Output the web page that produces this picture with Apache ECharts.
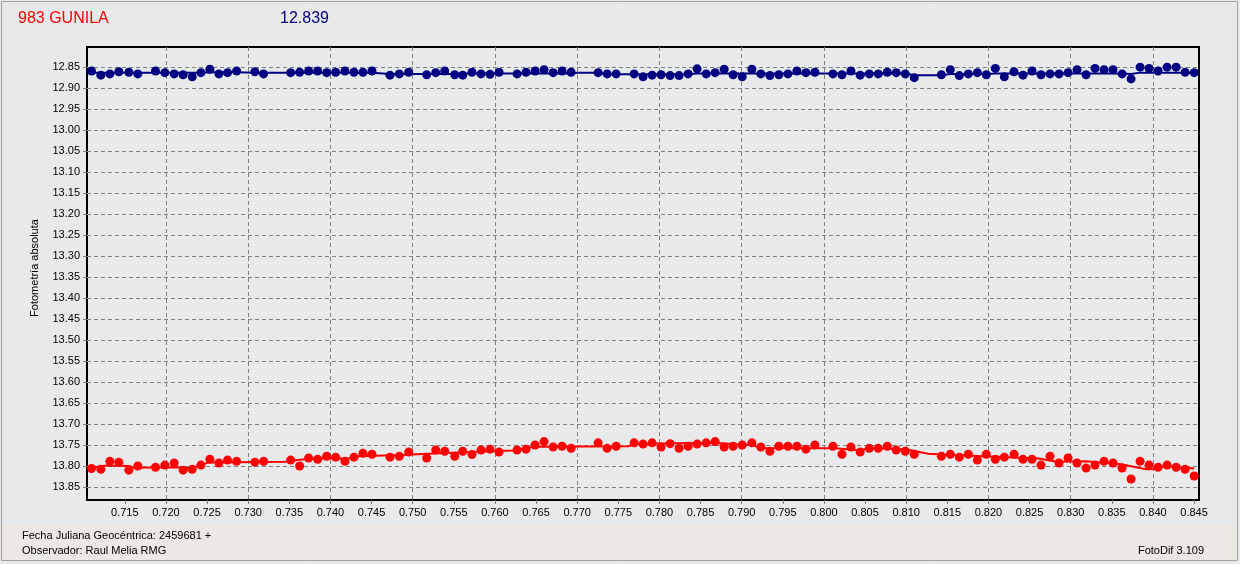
<!DOCTYPE html>
<html><head><meta charset="utf-8">
<script src="https://cdn.jsdelivr.net/npm/echarts@6/dist/echarts.min.js"></script>
<style>html,body{margin:0;padding:0;background:#e8e9eb}#c{width:1240px;height:564px}</style>
</head><body><div id="c"></div>
<script>
// Julian date fraction (shared by both stars)
const jd = [
0.71095,0.71208,0.71318,0.71427,0.71549,0.71658,0.71873,0.71987,0.72100,0.72209,
0.72319,0.72425,0.72534,0.72644,0.72749,0.72859,0.73081,0.73187,0.73516,0.73625,
0.73735,0.73844,0.73954,0.74063,0.74176,0.74286,0.74395,0.74505,0.74724,0.74837,
0.74951,0.75170,0.75280,0.75389,0.75511,0.75608,0.75721,0.75831,0.75940,0.76050,
0.76269,0.76378,0.76488,0.76597,0.76707,0.76816,0.76926,0.77254,0.77364,0.77473,
0.77692,0.77801,0.77911,0.78020,0.78130,0.78239,0.78349,0.78458,0.78568,0.78677,
0.78787,0.78896,0.79006,0.79124,0.79233,0.79343,0.79452,0.79562,0.79671,0.79781,
0.79890,0.80109,0.80219,0.80328,0.80441,0.80551,0.80660,0.80770,0.80879,0.80989,
0.81098,0.81427,0.81536,0.81646,0.81755,0.81865,0.81974,0.82084,0.82193,0.82311,
0.82420,0.82530,0.82639,0.82749,0.82858,0.82968,0.83077,0.83187,0.83296,0.83406,
0.83515,0.83625,0.83734,0.83844,0.83953,0.84063,0.84172,0.84282,0.84391,0.84501];

const blueMag = [
12.860,12.870,12.867,12.862,12.863,12.867,12.860,12.864,12.867,12.869,
12.874,12.864,12.856,12.867,12.864,12.860,12.862,12.867,12.864,12.863,
12.860,12.860,12.864,12.863,12.860,12.863,12.863,12.860,12.870,12.867,
12.863,12.869,12.864,12.860,12.869,12.870,12.863,12.867,12.868,12.863,
12.867,12.863,12.860,12.857,12.864,12.860,12.863,12.864,12.867,12.867,
12.867,12.874,12.870,12.869,12.871,12.871,12.867,12.855,12.867,12.864,
12.856,12.869,12.874,12.856,12.867,12.871,12.869,12.867,12.860,12.864,
12.863,12.867,12.869,12.860,12.870,12.867,12.867,12.863,12.864,12.867,
12.876,12.869,12.857,12.871,12.867,12.864,12.869,12.854,12.874,12.862,
12.870,12.860,12.869,12.867,12.867,12.864,12.857,12.869,12.854,12.857,
12.857,12.867,12.879,12.851,12.854,12.860,12.851,12.851,12.863,12.864];

const redMag = [
13.806,13.808,13.789,13.791,13.810,13.800,13.803,13.798,13.793,13.810,
13.808,13.798,13.784,13.793,13.786,13.789,13.791,13.789,13.786,13.800,
13.781,13.784,13.777,13.779,13.789,13.779,13.770,13.772,13.779,13.777,
13.767,13.781,13.762,13.765,13.777,13.765,13.773,13.762,13.760,13.767,
13.762,13.760,13.750,13.742,13.755,13.753,13.758,13.745,13.758,13.753,
13.745,13.748,13.745,13.755,13.747,13.758,13.753,13.748,13.745,13.742,
13.755,13.753,13.750,13.745,13.755,13.765,13.753,13.753,13.753,13.760,
13.750,13.753,13.772,13.755,13.767,13.758,13.758,13.753,13.762,13.765,
13.772,13.777,13.772,13.779,13.772,13.786,13.772,13.784,13.779,13.772,
13.784,13.784,13.798,13.777,13.793,13.781,13.793,13.805,13.798,13.789,
13.793,13.805,13.831,13.789,13.798,13.803,13.798,13.803,13.808,13.824];

// averaged curves
const blueLineJd  = [0.71095,0.72425,0.72534,0.72859,0.73081,0.74505,0.74724,0.75511,0.75608,0.76926,0.77010,0.77254,0.77364,0.78349,0.78458,0.80989,0.81098,0.81427,0.81536,0.81974,0.82084,0.83625,0.83734,0.83844,0.84501];
const blueLineMag = [12.864,12.864,12.863,12.863,12.864,12.864,12.867,12.867,12.866,12.866,12.864,12.864,12.868,12.868,12.866,12.866,12.870,12.870,12.867,12.867,12.866,12.866,12.867,12.864,12.864];

const redLineJd  = [0.71095,0.71274,0.71556,0.71600,0.72120,0.72208,0.72316,0.72512,0.73446,0.73620,0.73836,0.74229,0.74315,0.74853,0.75185,0.75793,0.76227,0.76488,0.77618,0.77704,0.77765,0.78634,0.79112,0.79242,0.80138,0.80399,0.80658,0.81006,0.81267,0.81571,0.82223,0.82612,0.82831,0.83179,0.83613,0.83917,0.84047,0.84134,0.84390,0.84501];
const redLineMag = [13.804,13.799,13.800,13.804,13.803,13.805,13.805,13.792,13.790,13.785,13.782,13.782,13.777,13.774,13.771,13.766,13.763,13.754,13.753,13.749,13.747,13.745,13.750,13.757,13.758,13.762,13.758,13.761,13.771,13.774,13.779,13.782,13.790,13.789,13.796,13.808,13.807,13.801,13.804,13.806];

const xTicks = [0.715,0.720,0.725,0.730,0.735,0.740,0.745,0.750,0.755,0.760,0.765,0.770,0.775,0.780,0.785,0.790,0.795,0.800,0.805,0.810,0.815,0.820,0.825,0.830,0.835,0.840,0.845];
const yTicks = [12.85,12.90,12.95,13.00,13.05,13.10,13.15,13.20,13.25,13.30,13.35,13.40,13.45,13.50,13.55,13.60,13.65,13.70,13.75,13.80,13.85];

const titleText = '983 GUNILA';
const compText = '12.839';
const yName = 'Fotometría absoluta';
const foot1 = 'Fecha Juliana Geocéntrica: 2459681 +';
const foot2 = 'Observador: Raul Melia RMG';
const foot3 = 'FotoDif 3.109';

const FONT = 'Liberation Sans, Arial, sans-serif';
const zip = (a, b) => a.map((v, i) => [v, b[i]]);
const gridStyle = {color: '#808080', width: 1, type: [4, 3]};

const chart = echarts.init(document.getElementById('c'), null, {renderer: 'canvas'});
chart.setOption({
  animation: false,
  backgroundColor: '#e8e9eb',
  grid: {left: 87, top: 47, right: 41, bottom: 64, show: true, borderColor: '#000', borderWidth: 2, backgroundColor: 'transparent'},
  xAxis: {
    type: 'value', min: 0.7104, max: 0.8456,
    axisLine: {show: true, onZero: false, lineStyle: {color: '#000', width: 2}},
    axisTick: {show: true, customValues: xTicks, length: 4, lineStyle: {color: '#808080'}},
    axisLabel: {customValues: xTicks, formatter: v => v.toFixed(3), fontSize: 11, color: '#000', fontFamily: FONT, margin: 7},
    splitLine: {show: false}
  },
  yAxis: {
    type: 'value', inverse: true, min: 12.803, max: 13.881,
    axisLine: {show: true, onZero: false, lineStyle: {color: '#000', width: 2}},
    axisTick: {show: true, customValues: yTicks, length: 4, lineStyle: {color: '#808080'}},
    axisLabel: {customValues: yTicks, formatter: v => v.toFixed(2), fontSize: 11, color: '#000', fontFamily: FONT, margin: 7},
    splitLine: {show: false}
  },
  series: [
    {type: 'line', data: [], silent: true, z: 1,
     markLine: {silent: true, z: 1, symbol: ['none', 'none'], label: {show: false}, lineStyle: gridStyle, emphasis: {disabled: true},
       data: xTicks.map(v => ({xAxis: v})).concat(yTicks.map(v => ({yAxis: v})))}},
    {type: 'line', data: zip(blueLineJd, blueLineMag), showSymbol: false, lineStyle: {color: '#000080', width: 2}, z: 6},
    {type: 'line', data: zip(redLineJd, redLineMag), showSymbol: false, lineStyle: {color: '#ff0000', width: 2}, z: 6},
    {type: 'scatter', data: zip(jd, blueMag), symbol: 'circle', symbolSize: 9, itemStyle: {color: '#000080', opacity: 1}, z: 8},
    {type: 'scatter', data: zip(jd, redMag), symbol: 'circle', symbolSize: 9, itemStyle: {color: '#ff0000', opacity: 1}, z: 8}
  ],
  graphic: [
    {type: 'rect', shape: {x: 1, y: 524, width: 1236, height: 37}, style: {fill: '#ece9e5'}, z: -1, silent: true},
    {type: 'rect', shape: {x: 1.5, y: 1.5, width: 1236, height: 559}, style: {fill: null, stroke: '#a0a0a0', lineWidth: 1}, silent: true},
    {type: 'text', x: 18, y: 19, style: {text: titleText, fill: '#ff0000', font: '16px ' + FONT, textVerticalAlign: 'middle'}},
    {type: 'text', x: 280, y: 19, style: {text: compText, fill: '#000080', font: '16px ' + FONT, textVerticalAlign: 'middle'}},
    {type: 'text', x: 35, y: 268, rotation: Math.PI / 2, style: {text: yName, fill: '#000', font: '11px ' + FONT, textAlign: 'center', textVerticalAlign: 'middle'}},
    {type: 'text', x: 22, y: 536, style: {text: foot1, fill: '#000', font: '11px ' + FONT, textVerticalAlign: 'middle'}},
    {type: 'text', x: 22, y: 551, style: {text: foot2, fill: '#000', font: '11px ' + FONT, textVerticalAlign: 'middle'}},
    {type: 'text', x: 1204, y: 551, style: {text: foot3, fill: '#000', font: '11px ' + FONT, textAlign: 'right', textVerticalAlign: 'middle'}}
  ]
});
</script></body></html>
